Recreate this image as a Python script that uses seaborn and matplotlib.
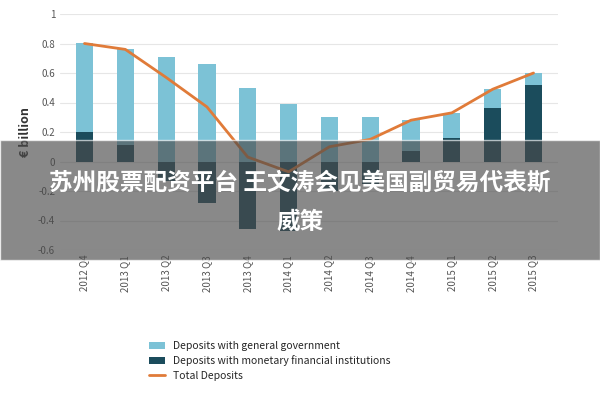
import numpy as np
import pandas as pd
import matplotlib

matplotlib.use("Agg")
import matplotlib.pyplot as plt
from matplotlib.patches import Rectangle
import seaborn as sns

quarters = ["2012 Q4", "2013 Q1", "2013 Q2", "2013 Q3", "2013 Q4", "2014 Q1",
            "2014 Q2", "2014 Q3", "2014 Q4", "2015 Q1", "2015 Q2", "2015 Q3"]
general_gov = [0.60, 0.65, 0.71, 0.66, 0.50, 0.39, 0.30, 0.30, 0.21, 0.17, 0.13, 0.08]
mfi = [0.20, 0.11, -0.13, -0.28, -0.46, -0.47, -0.20, -0.15, 0.07, 0.16, 0.36, 0.52]
total = [0.80, 0.76, 0.57, 0.37, 0.03, -0.07, 0.10, 0.15, 0.28, 0.33, 0.49, 0.60]

LIGHT = "#7cc2d6"
DARK = "#1b4c5c"
ORANGE = "#e07b39"

sns.set_style("white")
plt.rcParams["font.family"] = ["Noto Sans CJK SC", "DejaVu Sans"]

fig = plt.figure(figsize=(6, 4), dpi=100)
ax = fig.add_axes([0.1, 0.375, 0.83, 0.59])

x = np.arange(len(quarters))
gov_bottom = [max(v, 0) for v in mfi]
sns.barplot(x=x, y=mfi, color=DARK, width=0.42, ax=ax, saturation=1,
            linewidth=0, label="Deposits with monetary financial institutions")
sns.barplot(x=x, y=general_gov, bottom=gov_bottom, color=LIGHT, width=0.42,
            ax=ax, saturation=1, linewidth=0, label="Deposits with general government")
sns.lineplot(x=x, y=total, color=ORANGE, linewidth=2, ax=ax, label="Total Deposits")

ax.set_ylim(-0.6, 1.0)
ax.set_xlim(-0.6, 11.6)
ax.set_yticks([-0.6, -0.4, -0.2, 0, 0.2, 0.4, 0.6, 0.8, 1])
ax.set_yticklabels(["-0.6", "-0.4", "-0.2", "0", "0.2", "0.4", "0.6", "0.8", "1"],
                   fontsize=7, color="#555555")
ax.set_xticks(x)
ax.set_xticklabels(quarters, rotation=90, fontsize=7, color="#555555")
ax.yaxis.grid(True, color="#e6e6e6", linewidth=0.8)
ax.set_axisbelow(True)
for s in ax.spines.values():
    s.set_visible(False)
ax.tick_params(length=0)
ax.set_ylabel("€ billion", fontsize=9, fontweight="bold", color="#333333")

handles, labels = ax.get_legend_handles_labels()
order = [labels.index(l) for l in ["Deposits with general government",
                                   "Deposits with monetary financial institutions",
                                   "Total Deposits"]]
ax.legend([handles[i] for i in order], [labels[i] for i in order],
          loc="upper left", bbox_to_anchor=(0.16, -0.345), frameon=False,
          fontsize=7.5, handlelength=1.5, labelspacing=0.45)

fig.patches.append(Rectangle((0, 0.35), 1, 0.3, transform=fig.transFigure,
                             facecolor="#4a4a4a", alpha=0.65, zorder=10))
fig.text(0.5, 0.545, "苏州股票配资平台 王文涛会见美国副贸易代表斯", ha="center", va="center",
         fontsize=17, fontweight="bold", color="white", zorder=11)
fig.text(0.5, 0.445, "威策", ha="center", va="center",
         fontsize=17, fontweight="bold", color="white", zorder=11)

fig.savefig("out.png", dpi=100)
